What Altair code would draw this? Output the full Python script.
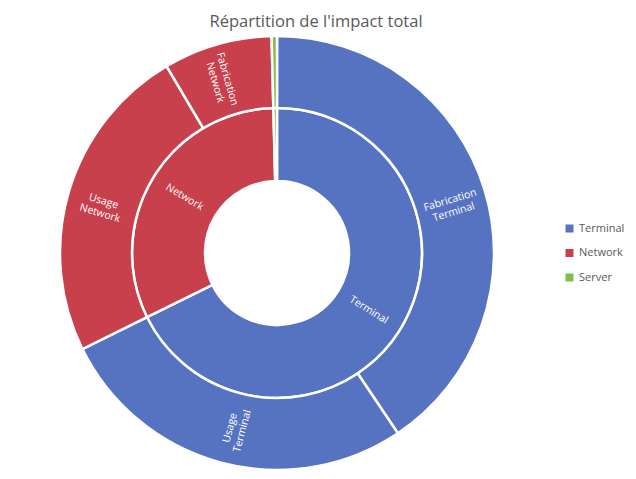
import altair as alt
import pandas as pd

parents = ["Terminal", "Network", "Server"]
parent_values = [67.7, 31.9, 0.4]

leaves = ["Fabrication Terminal", "Usage Terminal", "Usage Network", "Fabrication Network", "Server"]
leaf_parents = ["Terminal", "Terminal", "Network", "Network", "Server"]
leaf_values = [40.6, 27.1, 23.8, 8.1, 0.4]

colors = ["#5673C1", "#C8404B", "#80C04A"]
total = sum(parent_values)
font = "Open Sans"


def ring_data(names, groups, values):
    df = pd.DataFrame({"name": names, "group": groups, "value": values})
    df["order"] = range(len(df))
    df["mid"] = df["value"].cumsum() - df["value"] / 2
    deg = df["mid"] / total * 360 - 90
    df["rot"] = deg.where(deg <= 90, deg - 180) % 360
    # Excel n'affiche pas l'étiquette des tranches trop petites
    df["label"] = [n.replace(" ", "\n") if v > 1 else "" for n, v in zip(names, values)]
    return df


inner = ring_data(parents, parents, parent_values)
outer = ring_data(leaves, leaf_parents, leaf_values)

theta_scale = alt.Scale(domain=[0, total])
color = alt.Color(
    "group:N",
    scale=alt.Scale(domain=parents, range=colors),
    legend=alt.Legend(
        title=None, orient="none", legendX=551, legendY=186,
        symbolType="square", symbolSize=64, symbolStrokeWidth=0,
        labelFont=font, labelFontSize=11, labelColor="#595959", rowPadding=12.5,
    ),
)


def arcs(df, r0, r1):
    return alt.Chart(df).mark_arc(radius=r1, radius2=r0, stroke="white", strokeWidth=2.5).encode(
        theta=alt.Theta("value:Q", stack=True, scale=theta_scale),
        color=color,
        order=alt.Order("order:Q"),
    )


def labels(df, r):
    return alt.Chart(df).mark_text(
        radius=r, color="white", font=font, fontSize=10.5, lineBreak="\n"
    ).encode(
        theta=alt.Theta("mid:Q", scale=theta_scale),
        angle=alt.Angle("rot:Q", scale=None),
        text="label:N",
    )


chart = alt.layer(
    arcs(inner, 72, 145),
    arcs(outer, 145, 217),
    labels(inner, 108),
    labels(outer, 181),
).properties(
    width=528,
    height=432,
    title=alt.TitleParams(
        "Répartition de l'impact total", font=font, fontSize=16.5, fontWeight="normal",
        color="#595959", anchor="middle", dx=39, dy=3,
    ),
    autosize=alt.AutoSizeParams(type="none"),
    padding={"left": 5, "top": 29, "right": 85, "bottom": 1},
).configure_view(strokeWidth=0)

chart.save("out.html", embed_options={"renderer": "svg", "actions": False})
